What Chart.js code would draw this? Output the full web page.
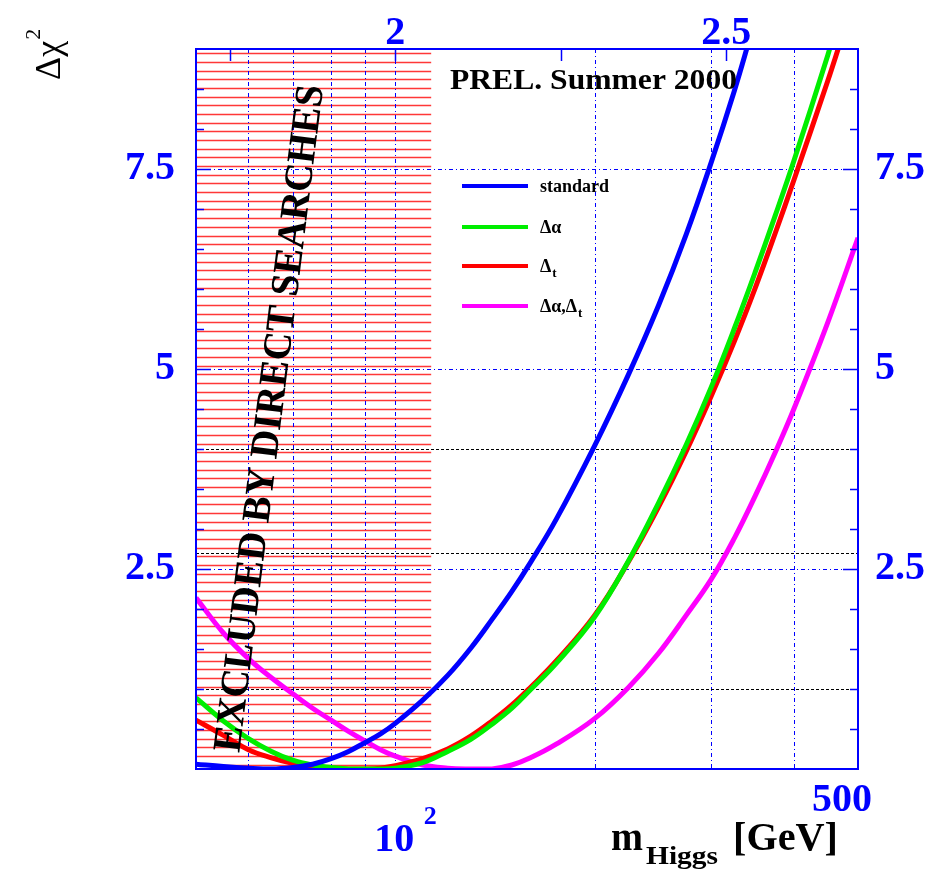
<!DOCTYPE html>
<html>
<head>
<meta charset="utf-8">
<script src="https://cdn.jsdelivr.net/npm/chart.js@4.4.1/dist/chart.umd.min.js"></script>
<style>
  html, body { margin: 0; padding: 0; background: #fff; }
  #wrap { width: 935px; height: 874px; }
</style>
</head>
<body>
<div id="wrap"><canvas id="chi2Chart"></canvas></div>
<script>
// Delta chi^2 vs Higgs mass (GeV)
var massStd = [50, 55, 60, 65, 70, 75, 80, 85, 90, 95, 100, 110, 120, 130, 140, 150, 160, 175, 200, 225, 250, 275, 300, 325, 345];
var chi2Std = [0.06, 0.03, 0.01, 0.0, 0.02, 0.06, 0.13, 0.22, 0.33, 0.44, 0.57, 0.86, 1.17, 1.51, 1.87, 2.22, 2.58, 3.12, 4.04, 4.93, 5.8, 6.68, 7.58, 8.47, 9.2];

var massAlpha = [50, 55, 60, 65, 70, 75, 80, 85, 90, 95, 100, 110, 120, 130, 140, 150, 160, 175, 200, 225, 250, 275, 300, 325, 350, 375, 400, 450, 460];
var chi2Alpha = [0.89, 0.6, 0.38, 0.22, 0.11, 0.05, 0.02, 0.0, 0.0, 0.0, 0.01, 0.08, 0.22, 0.37, 0.56, 0.76, 0.99, 1.32, 1.9, 2.6, 3.33, 4.05, 4.77, 5.5, 6.22, 6.92, 7.6, 8.92, 9.2];

var massTop = [50, 55, 60, 65, 70, 75, 80, 85, 90, 95, 100, 110, 120, 130, 140, 150, 160, 175, 200, 225, 250, 275, 300, 325, 350, 375, 400, 450, 470];
var chi2Top = [0.61, 0.42, 0.24, 0.14, 0.07, 0.03, 0.01, 0.0, 0.0, 0.01, 0.04, 0.13, 0.25, 0.41, 0.6, 0.8, 1.02, 1.35, 1.92, 2.59, 3.28, 3.97, 4.66, 5.34, 6.02, 6.7, 7.36, 8.6, 9.08];

var massBoth = [50, 55, 60, 65, 70, 75, 80, 85, 90, 95, 100, 110, 120, 130, 140, 150, 160, 175, 200, 225, 250, 275, 300, 325, 350, 375, 400, 450, 500];
var chi2Both = [2.14, 1.7, 1.38, 1.14, 0.94, 0.76, 0.61, 0.47, 0.35, 0.24, 0.16, 0.05, 0.01, 0.0, 0.0, 0.05, 0.14, 0.31, 0.63, 1.02, 1.45, 1.92, 2.37, 2.88, 3.42, 3.96, 4.5, 5.58, 6.64];

var seriesLabels = ['standard', 'Δα', 'Δt', 'Δα,Δt'];
var seriesColors = ['#0000ff', '#00ee00', '#ff0000', '#ff00ff'];

var topTickLabels = [2, 2.5];          // log10(mH)
var topTickMarks = [1.75, 2, 2.25, 2.5];
var yTickLabels = [2.5, 5, 7.5];
var clLevels = [1, 2.7, 4];            // black dashed lines
var gridMasses = [60, 70, 80, 90, 100, 200, 300, 400];
var excludedLimit = 113.3;             // GeV, direct searches

var SERIF = "'Liberation Serif', 'Times New Roman', serif";
var BLUE = '#0000ff';

function toPoints(xs, ys) {
    return xs.map(function (m, i) { return { x: m, y: ys[i] }; });
}

// draw text squeezed/stretched to a given width
function fitText(ctx, text, x, y, width) {
    var w = ctx.measureText(text).width;
    ctx.save();
    ctx.translate(x, y);
    ctx.scale(width / w, 1);
    ctx.fillText(text, 0, 0);
    ctx.restore();
}

var decorPlugin = {
    id: 'decor',
    beforeDatasetsDraw: function (chart) {
        var ctx = chart.ctx, a = chart.chartArea;
        var xs = chart.scales.x, ys = chart.scales.y;
        ctx.save();
        ctx.beginPath();
        ctx.rect(a.left, a.top, a.right - a.left, a.bottom - a.top);
        ctx.clip();

        // hatched excluded region
        var xEnd = xs.getPixelForValue(excludedLimit);
        ctx.strokeStyle = 'rgba(255, 20, 20, 0.85)';
        ctx.lineWidth = 1.4;
        var step = 9 / 83;
        for (var v = step / 2; v < 9; v += step) {
            var py = Math.round(ys.getPixelForValue(v)) + 0.5;
            ctx.beginPath();
            ctx.moveTo(a.left, py);
            ctx.lineTo(xEnd, py);
            ctx.stroke();
        }

        // blue dash-dot grid
        ctx.strokeStyle = BLUE;
        ctx.lineWidth = 1;
        ctx.setLineDash([4, 3, 1, 3]);
        gridMasses.forEach(function (m) {
            var px = Math.round(xs.getPixelForValue(m)) + 0.5;
            ctx.beginPath();
            ctx.moveTo(px, a.top);
            ctx.lineTo(px, a.bottom);
            ctx.stroke();
        });
        yTickLabels.forEach(function (v) {
            var py = Math.round(ys.getPixelForValue(v)) + 0.5;
            ctx.beginPath();
            ctx.moveTo(a.left, py);
            ctx.lineTo(a.right, py);
            ctx.stroke();
        });

        // black dashed confidence levels
        ctx.strokeStyle = '#000';
        ctx.setLineDash([3, 2]);
        clLevels.forEach(function (v) {
            var py = Math.round(ys.getPixelForValue(v)) + 0.5;
            ctx.beginPath();
            ctx.moveTo(a.left, py);
            ctx.lineTo(a.right, py);
            ctx.stroke();
        });
        ctx.restore();
    },
    afterDatasetsDraw: function (chart) {
        var ctx = chart.ctx, a = chart.chartArea;
        var xs = chart.scales.x, ys = chart.scales.y, xt = chart.scales.x2;
        ctx.save();

        // excluded label, slightly tilted
        ctx.fillStyle = '#000';
        ctx.font = 'bold 40px ' + SERIF;
        ctx.textBaseline = 'middle';
        ctx.save();
        ctx.translate(229, 752);
        ctx.rotate(Math.atan2(-667, 84));
        fitText(ctx, 'EXCLUDED BY DIRECT SEARCHES', 0, 0, 672);
        ctx.restore();

        // frame
        ctx.strokeStyle = BLUE;
        ctx.lineWidth = 2;
        ctx.strokeRect(a.left, a.top, a.right - a.left, a.bottom - a.top);

        // ticks
        ctx.lineWidth = 1.5;
        for (var v = 0.5; v < 9; v += 0.5) {
            var py = Math.round(ys.getPixelForValue(v)) + 0.5;
            var len = (v % 2.5 === 0) ? 15 : 8;
            ctx.beginPath();
            ctx.moveTo(a.left, py); ctx.lineTo(a.left + len, py);
            ctx.moveTo(a.right, py); ctx.lineTo(a.right - len, py);
            ctx.stroke();
        }
        topTickMarks.forEach(function (t) {
            var px = Math.round(xt.getPixelForValue(t)) + 0.5;
            ctx.beginPath();
            ctx.moveTo(px, a.top); ctx.lineTo(px, a.top + 12);
            ctx.stroke();
        });

        // bottom axis labels
        ctx.fillStyle = BLUE;
        ctx.textBaseline = 'alphabetic';
        ctx.textAlign = 'center';
        ctx.font = 'bold 40px ' + SERIF;
        ctx.fillText('10', xs.getPixelForValue(100) - 1, 851);
        ctx.fillText('500', xs.getPixelForValue(500) - 16, 811);
        ctx.font = 'bold 26px ' + SERIF;
        ctx.fillText('2', xs.getPixelForValue(100) + 35, 824);

        // axis titles
        ctx.fillStyle = '#000';
        ctx.textAlign = 'left';
        ctx.font = 'bold 40px ' + SERIF;
        fitText(ctx, 'm', 611, 850, 32);
        fitText(ctx, '[GeV]', 733, 850, 105);
        ctx.font = 'bold 26px ' + SERIF;
        fitText(ctx, 'Higgs', 646, 864, 72);

        ctx.save();
        ctx.translate(60, 80);
        ctx.rotate(-Math.PI / 2);
        ctx.font = '36px ' + SERIF;
        ctx.fillText('Δχ', 0, 0);
        var w = ctx.measureText('Δχ').width;
        ctx.font = '22px ' + SERIF;
        ctx.fillText('2', w + 1, -20);
        ctx.restore();

        // preliminary tag
        ctx.font = 'bold 30px ' + SERIF;
        fitText(ctx, 'PREL. Summer 2000', 450, 89, 287);

        // legend
        var legendY = [186, 227, 266, 306];
        var legendParts = [
            [['standard', false]],
            [['Δα', false]],
            [['Δ', false], ['t', true]],
            [['Δα,Δ', false], ['t', true]]
        ];
        legendY.forEach(function (ly, i) {
            ctx.strokeStyle = seriesColors[i];
            ctx.lineWidth = 4;
            ctx.beginPath();
            ctx.moveTo(462, ly); ctx.lineTo(528, ly);
            ctx.stroke();
            var tx = 540;
            ctx.fillStyle = '#000';
            legendParts[i].forEach(function (p) {
                ctx.font = (p[1] ? 'bold 13px ' : 'bold 18px ') + SERIF;
                ctx.fillText(p[0], tx, p[1] ? ly + 11 : ly + 6);
                tx += ctx.measureText(p[0]).width + (i === 0 ? 0 : 1);
            });
        });
        ctx.restore();
    }
};

var allSeries = [
    toPoints(massStd, chi2Std),
    toPoints(massAlpha, chi2Alpha),
    toPoints(massTop, chi2Top),
    toPoints(massBoth, chi2Both)
];

var tickFont = { family: SERIF, size: 40, weight: 'bold' };

new Chart(document.getElementById('chi2Chart').getContext('2d'), {
    type: 'scatter',
    data: {
        datasets: allSeries.map(function (pts, i) {
            return {
                label: seriesLabels[i],
                data: pts,
                showLine: true,
                borderColor: seriesColors[i],
                backgroundColor: seriesColors[i],
                borderWidth: 5,
                pointRadius: 0,
                tension: 0.4
            };
        })
    },
    options: {
        responsive: true,
        maintainAspectRatio: false,
        animation: false,
        layout: { padding: 0 },
        plugins: { legend: { display: false }, tooltip: { enabled: false } },
        scales: {
            x: {
                type: 'logarithmic',
                position: 'bottom',
                min: 50,
                max: 500,
                ticks: { display: false },
                grid: { display: false, drawTicks: false },
                border: { display: false },
                afterFit: function (s) { s.height = 874 - 769; }
            },
            x2: {
                type: 'linear',
                position: 'top',
                min: Math.log10(50),
                max: Math.log10(500),
                afterBuildTicks: function (s) {
                    s.ticks = topTickLabels.map(function (v) { return { value: v }; });
                },
                ticks: {
                    color: BLUE, font: tickFont, padding: -9, maxRotation: 0,
                    callback: function (v) { return String(v); }
                },
                grid: { display: false, drawTicks: false },
                border: { display: false },
                afterFit: function (s) { s.height = 49; }
            },
            y: {
                position: 'left',
                min: 0,
                max: 9,
                afterBuildTicks: function (s) {
                    s.ticks = yTickLabels.map(function (v) { return { value: v }; });
                },
                ticks: { color: BLUE, font: tickFont, padding: 21 },
                grid: { display: false, drawTicks: false },
                border: { display: false },
                afterFit: function (s) { s.width = 196; }
            },
            y2: {
                position: 'right',
                min: 0,
                max: 9,
                afterBuildTicks: function (s) {
                    s.ticks = yTickLabels.map(function (v) { return { value: v }; });
                },
                ticks: { color: BLUE, font: tickFont, padding: 17 },
                grid: { display: false, drawTicks: false },
                border: { display: false },
                afterFit: function (s) { s.width = 935 - 858; }
            }
        }
    },
    plugins: [decorPlugin]
});
</script>
</body>
</html>
